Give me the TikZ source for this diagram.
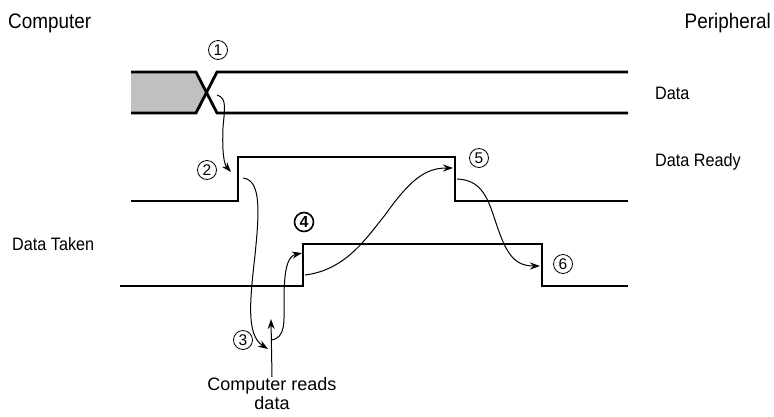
\documentclass[tikz,border=0pt]{standalone}
\usepackage{fontspec}
\setmainfont{Liberation Sans}
\newfontfamily\narrowsans[FakeStretch=0.9]{Liberation Sans}
\usepackage{xcolor}
\definecolor{busgray}{HTML}{C0C0C0}
\usetikzlibrary{positioning,arrows.meta}

\begin{document}
\begin{tikzpicture}[x=1pt, y=-1pt,
    sig/.style={line width=2.8pt, line join=miter},
    num/.style={draw, circle, line width=0.8pt, inner sep=0pt,
                minimum size=19pt, font=\fontsize{15.5}{15}\selectfont},
    boldnum/.style={num, line width=1.6pt, font=\fontsize{16}{16}\selectfont\bfseries},
    side/.style={font=\narrowsans\fontsize{21}{24}\selectfont, inner sep=0pt},
    lab/.style={font=\narrowsans\fontsize{18}{19}\selectfont, inner sep=0pt},
    note/.style={font=\fontsize{18}{19}\selectfont, inner sep=0pt, align=center},
    arr/.style={-{Stealth[length=10pt, width=7pt]}, line width=1pt}]
  \useasboundingbox (0,0) rectangle (774,416);

  % data bus
  \fill[busgray] (131,72) -- (196,72) -- (206,92) -- (196,113) -- (131,113) -- cycle;
  \draw[sig] (131,72) -- (196,72) -- (217,113) -- (628,113);
  \draw[sig] (131,113) -- (196,113) -- (217,72) -- (628,72);
  % data ready
  \draw[sig] (131,201) -- (238,201) -- (238,157) -- (455,157) -- (455,201) -- (628,201);
  % data taken
  \draw[sig] (120,286) -- (303,286) -- (303,244) -- (542,244) -- (542,286) -- (628,286);

  \coordinate (xover) at (217,95);
  \coordinate (rdyup) at (231,172);
  \coordinate (rdyhi) at (243,178);
  \coordinate (rdtip) at (268,349);
  \coordinate (rdmid) at (271,340);
  \coordinate (rdtop) at (271,319);
  \coordinate (tknup) at (302,253);
  \coordinate (tknhi) at (305,275);
  \coordinate (rdydn) at (453,168);
  \coordinate (rdylo) at (457,179);
  \coordinate (tkndn) at (540,266);

  \node[side, anchor=base west] (comp) at (8,28) {Computer};
  \node[side, anchor=base east] (peri) at (771,28) {Peripheral};
  \node[lab, anchor=base west] (data) at (655,99) {Data};
  \node[lab, anchor=base west] (ready) at (655,166) {Data Ready};
  \node[lab, anchor=base west] (taken) at (12,250) {Data Taken};
  \node[note, anchor=north] (reads) at (272,377) {Computer reads\\data};

  \node[num] (n1) at (218,50) {1};
  \node[num] (n2) at (207,170) {2};
  \node[num] (n3) at (243,340) {3};
  \node[boldnum] (n4) at (304,222) {4};
  \node[num] (n5) at (479,158) {5};
  \node[num] (n6) at (563,264) {6};

  \draw[arr] (xover) .. controls (228,98) and (224,112) .. (223,128)
                     .. controls (222,152) and (224,164) .. (rdyup);
  \draw[arr] (rdyhi) .. controls (262,180) and (259,215) .. (255,255)
                     .. controls (250,300) and (246,335) .. (rdtip);
  \draw[arr] (reads.north) -- (rdtop);
  \draw[arr] (rdmid) .. controls (286,338) and (284,322) .. (284,300)
                     .. controls (284,268) and (288,256) .. (tknup);
  \draw[arr] (tknhi) .. controls (345,270) and (365,240) .. (385,215)
                     .. controls (410,180) and (425,168) .. (rdydn);
  \draw[arr] (rdylo) .. controls (480,180) and (487,195) .. (495,220)
                     .. controls (505,250) and (512,266) .. (tkndn);
\end{tikzpicture}
\end{document}
